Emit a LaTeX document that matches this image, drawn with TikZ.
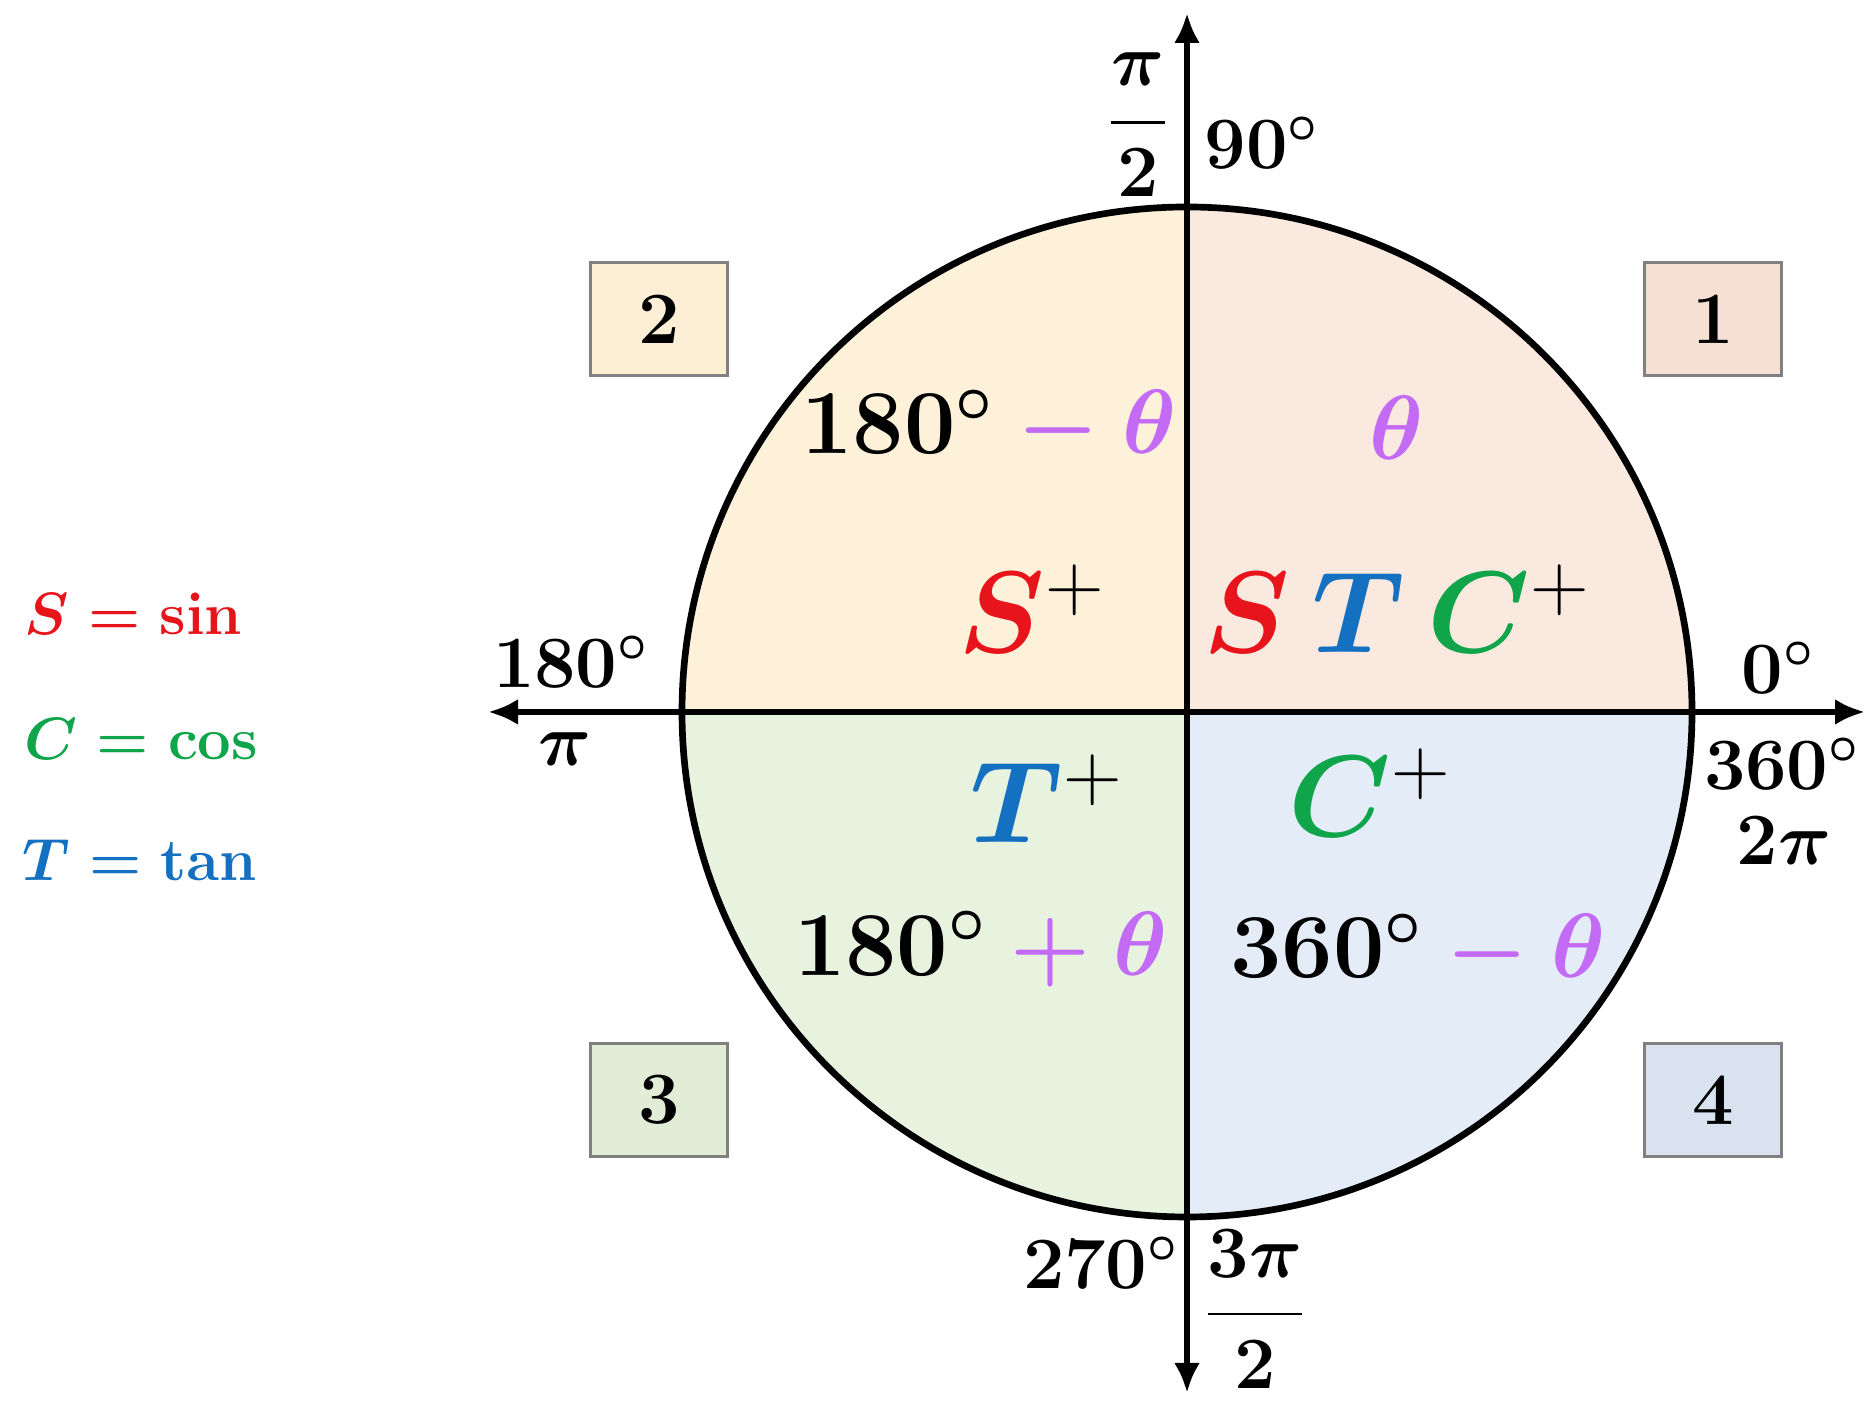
\documentclass[tikz,border=0pt]{standalone}
\usepackage{fix-cm}
\usepackage{amsmath}
\usetikzlibrary{arrows.meta,positioning}
\definecolor{SinRed}{HTML}{E8141C}
\definecolor{CosGreen}{HTML}{10A54A}
\definecolor{TanBlue}{HTML}{1470C0}
\definecolor{Theta}{HTML}{C46BF5}
\definecolor{BoxRule}{HTML}{808080}
\definecolor{QOneFill}{HTML}{FAE9DF}
\definecolor{QTwoFill}{HTML}{FEF1D9}
\definecolor{QThreeFill}{HTML}{E7F2DF}
\definecolor{QFourFill}{HTML}{E4EDF7}
\definecolor{BOneFill}{HTML}{F6E0D4}
\definecolor{BTwoFill}{HTML}{FCEFD6}
\definecolor{BThreeFill}{HTML}{E1EDD6}
\definecolor{BFourFill}{HTML}{D9E3EF}
\newcommand{\pl}{\text{\unboldmath$+$}}
\newcommand{\tpart}[1]{\mathbin{\color{Theta}#1}{\color{Theta}\theta}}
\tikzset{
  quadbox/.style={draw=BoxRule,line width=.8pt,minimum width=1.37cm,minimum height=1.13cm,font=\fontsize{21}{24}\selectfont\bfseries},
  axislabel/.style={font=\fontsize{21}{24}\selectfont\boldmath\bfseries,inner sep=0pt},
  anglelabel/.style={font=\fontsize{26}{30}\selectfont\boldmath\bfseries,inner sep=0pt},
  signlabel/.style={font=\fontsize{33}{38}\selectfont\boldmath\bfseries,inner sep=0pt},
  legend/.style={font=\fontsize{17}{20}\selectfont\boldmath\bfseries,inner sep=0pt,anchor=west},
  axis/.style={-{Latex[length=.3cm,width=.26cm]},line width=1.7pt},
  rim/.style={line width=1.9pt}
}
\begin{document}
\begin{tikzpicture}
\useasboundingbox (0,0) rectangle (18.65,14.01);
\coordinate (O) at (11.87,6.89);
\def\R{5.05}
% quadrant fills
\fill[QOneFill] (O) -- ++(\R,0) arc[start angle=0,end angle=90,radius=\R] -- cycle;
\fill[QTwoFill] (O) -- ++(0,\R) arc[start angle=90,end angle=180,radius=\R] -- cycle;
\fill[QThreeFill] (O) -- ++(-\R,0) arc[start angle=180,end angle=270,radius=\R] -- cycle;
\fill[QFourFill] (O) -- ++(0,-\R) arc[start angle=270,end angle=360,radius=\R] -- cycle;
\draw[rim] (O) circle[radius=\R];
% axes
\coordinate (east) at (18.65,6.89);
\coordinate (west) at (4.88,6.89);
\coordinate (north) at (11.87,13.88);
\coordinate (south) at (11.87,0.08);
\draw[axis] (O) -- (east);
\draw[axis] (O) -- (west);
\draw[axis] (O) -- (north);
\draw[axis] (O) -- (south);
% axis labels
\node[axislabel] (halfpi) at (11.38,12.76) {$\dfrac{\pi}{2}$};
\node[axislabel,anchor=west] (ninety) at (12.04,12.58) {$90^\circ$};
\node[axislabel] (oneeighty) at (5.71,7.39) {$180^\circ$};
\node[axislabel] (pi) at (5.65,6.52) {$\pi$};
\node[axislabel] (zero) at (17.78,7.33) {$0^\circ$};
\node[axislabel] (threesixty) at (17.82,6.37) {$360^\circ$};
\node[axislabel] (twopi) at (17.84,5.60) {$2\pi$};
\node[axislabel] (twoseventy) at (11.01,1.38) {$270^\circ$};
\node[axislabel] (threehalfpi) at (12.55,0.92) {$\dfrac{3\pi}{2}$};
% quadrant numbers
\node[quadbox,fill=BOneFill] (qone) at (17.13,10.82) {1};
\node[quadbox,fill=BTwoFill] (qtwo) at (6.59,10.82) {2};
\node[quadbox,fill=BThreeFill] (qthree) at (6.59,3.01) {3};
\node[quadbox,fill=BFourFill] (qfour) at (17.13,3.01) {4};
% angles
\node[anglelabel] (aone) at (13.97,9.73) {$\color{Theta}\theta$};
\node[anglelabel] (atwo) at (9.89,9.73) {$180^\circ\tpart{-}$};
\node[anglelabel] (athree) at (9.81,4.52) {$180^\circ\tpart{+}$};
\node[anglelabel] (afour) at (14.18,4.49) {$360^\circ\tpart{-}$};
% signs
\node[signlabel] (sone) at (13.97,7.92) {${\color{SinRed}S}\,{\color{TanBlue}T}\,{\color{CosGreen}C}^{\pl}$};
\node[signlabel] (stwo) at (10.32,7.92) {${\color{SinRed}S}^{\pl}$};
\node[signlabel] (sthree) at (10.47,6.02) {${\color{TanBlue}T}^{\pl}$};
\node[signlabel] (sfour) at (13.70,6.08) {${\color{CosGreen}C}^{\pl}$};
% legend
\node[legend,text=SinRed] (lsin) at (0.24,7.87) {$S=\mathbf{sin}$};
\node[legend,text=CosGreen] (lcos) at (0.24,6.62) {$C=\mathbf{cos}$};
\node[legend,text=TanBlue] (ltan) at (0.22,5.41) {$T=\mathbf{tan}$};
\end{tikzpicture}
\end{document}
